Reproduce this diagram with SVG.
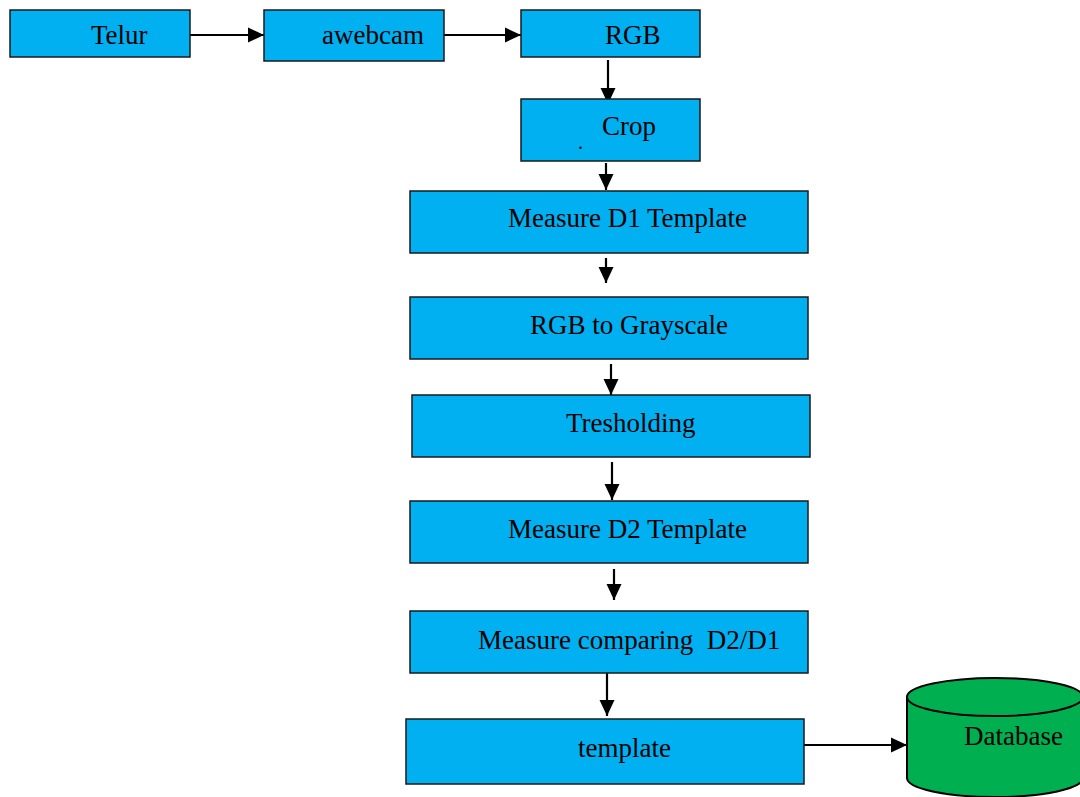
<svg xmlns="http://www.w3.org/2000/svg" width="1080" height="797" viewBox="0 0 1080 797">
<style>
.box{fill:#00B0F0;stroke:#1a1a1a;stroke-width:1.5}
.db{fill:#00B050;stroke:#000;stroke-width:2}
.t{font-family:"Liberation Serif","Times New Roman",serif;font-size:27px;fill:#000}
.c{stroke:#000;stroke-width:2.2;fill:none;marker-end:url(#ah)}
</style>
<defs>
<marker id="ah" markerWidth="18" markerHeight="18" refX="16" refY="8.5" orient="auto" markerUnits="userSpaceOnUse">
<path d="M0,1 L16,8.5 L0,16 Z" fill="#000"/>
</marker>
</defs>
<rect width="1080" height="797" fill="#fff"/>
<g id="connectors">
<line class="c" x1="190" y1="35" x2="264" y2="35"/>
<line class="c" x1="444" y1="35" x2="521" y2="35"/>
<line class="c" x1="608" y1="60" x2="608" y2="104"/>
<line class="c" x1="606" y1="163" x2="606" y2="190"/>
<line class="c" x1="606" y1="258" x2="606" y2="283"/>
<line class="c" x1="611" y1="364" x2="611" y2="395"/>
<line class="c" x1="612" y1="462" x2="612" y2="500"/>
<line class="c" x1="614" y1="569" x2="614" y2="600"/>
<line class="c" x1="607" y1="673" x2="607" y2="716"/>
<line class="c" x1="804" y1="745" x2="907" y2="745"/>
</g>
<g id="telur"><rect class="box" x="10" y="10" width="180" height="47"/><text class="t" x="91" y="44">Telur</text></g>
<g id="awebcam"><rect class="box" x="264" y="10" width="180" height="51"/><text class="t" x="322" y="44">awebcam</text></g>
<g id="rgb"><rect class="box" x="521" y="10" width="179" height="47"/><text class="t" x="605" y="44">RGB</text></g>
<g id="crop"><rect class="box" x="521" y="99" width="179" height="62"/><text class="t" x="602" y="135">Crop</text><text class="t" x="578" y="149" style="font-size:20px">.</text></g>
<g id="measure-d1"><rect class="box" x="410" y="191" width="398" height="62"/><text class="t" x="508" y="227">Measure D1 Template</text></g>
<g id="rgb-gray"><rect class="box" x="410" y="297" width="398" height="62"/><text class="t" x="530" y="334">RGB to Grayscale</text></g>
<g id="tresholding"><rect class="box" x="412" y="395" width="398" height="62"/><text class="t" x="566" y="432">Tresholding</text></g>
<g id="measure-d2"><rect class="box" x="410" y="501" width="398" height="62"/><text class="t" x="508" y="538">Measure D2 Template</text></g>
<g id="compare"><rect class="box" x="410" y="611" width="398" height="62"/><text class="t" x="478" y="649" xml:space="preserve">Measure comparing  D2/D1</text></g>
<g id="template"><rect class="box" x="406" y="719" width="398" height="65"/><text class="t" x="578" y="757">template</text></g>
<g id="database">
<path class="db" d="M907,697 L907,778 A88,19 0 0 0 1083,778 L1083,697"/>
<ellipse class="db" cx="995" cy="697" rx="88" ry="19"/>
<text class="t" x="964" y="745">Database</text>
</g>
</svg>
